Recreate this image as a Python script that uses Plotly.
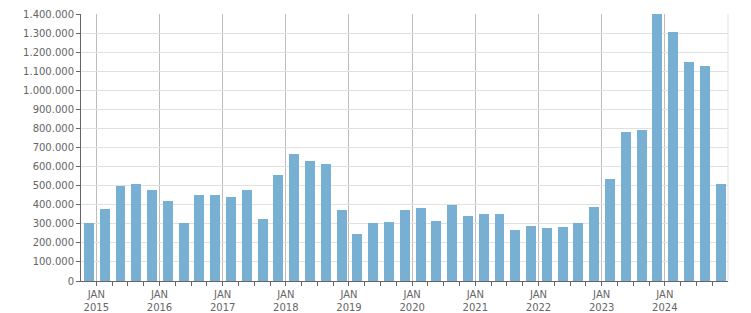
import plotly.graph_objects as go

quarters = list(range(41))
values = [305000, 377000, 498000, 510000, 479000, 421000, 306000, 452000, 452000, 440000,
          479000, 327000, 557000, 667000, 629000, 615000, 374000, 248000, 306000, 311000,
          374000, 384000, 316000, 400000, 342000, 353000, 353000, 269000, 290000, 279000,
          285000, 306000, 390000, 536000, 783000, 793000, 1400000, 1307000, 1150000, 1129000,
          510000]
years = list(range(2015, 2025))
jan_offset = 0.47
jan_pos = [jan_offset + 4 * (y - 2015) for y in years]
jan_text = ["JAN<br>%d" % y for y in years]
minor_pos = [jan_offset + k for k in range(-1, 41) if k % 4 != 0]
y_ticks = list(range(0, 1400001, 100000))

fig = go.Figure()
fig.add_trace(go.Bar(x=quarters, y=values, marker=dict(color="#78b0d3", line=dict(width=0)),
                     width=0.63))

fig.update_layout(
    width=751, height=313,
    margin=dict(l=81, r=23, t=14, b=32),
    paper_bgcolor="white", plot_bgcolor="white",
    separators=",.",
    showlegend=False,
    font=dict(family="DejaVu Sans", size=10, color="#666666"),
    bargap=0,
)
fig.update_xaxes(
    range=[-0.5, 40.47], automargin=False,
    tickmode="array", tickvals=jan_pos, ticktext=jan_text,
    showgrid=True, gridcolor="#bdbdbd", gridwidth=1,
    showline=True, linecolor="#666666", linewidth=1,
    ticks="outside", ticklen=4, tickcolor="#666666",
    zeroline=False,
    minor=dict(tickmode="array", tickvals=minor_pos, ticks="outside", ticklen=4,
               tickcolor="#666666", showgrid=False),
    tickfont=dict(size=10, color="#666666"),
)
fig.update_yaxes(
    range=[0, 1400000], automargin=False,
    tickmode="array", tickvals=y_ticks, tickformat=",d",
    showgrid=True, gridcolor="#e0e0e0", gridwidth=1,
    showline=True, linecolor="#666666", linewidth=1,
    ticks="outside", ticklen=4, tickcolor="#666666",
    zeroline=False,
    tickfont=dict(size=10, color="#666666"),
)
fig.add_shape(type="line", xref="paper", yref="paper", x0=1, x1=1, y0=0, y1=1,
              line=dict(color="#e0e0e0", width=1))
fig.write_html("out.html")
